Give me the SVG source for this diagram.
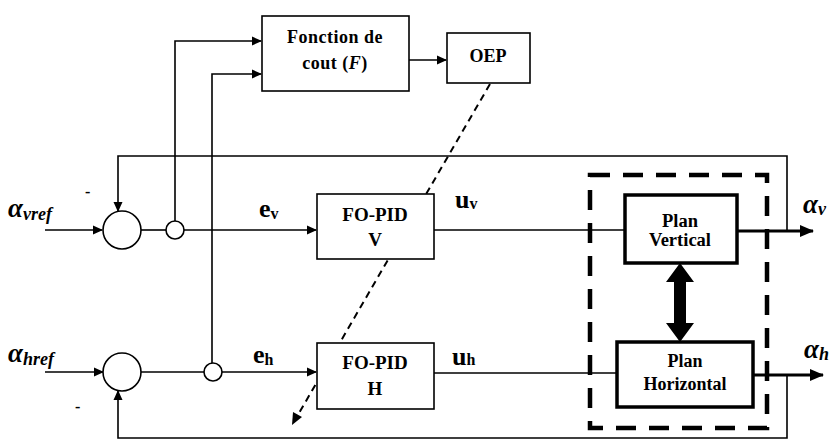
<svg xmlns="http://www.w3.org/2000/svg" width="832" height="443" viewBox="0 0 832 443">
<style>
.ln{fill:none;stroke:#000;stroke-width:1.6}
.box{fill:#fff;stroke:#000;stroke-width:1.6}
.tbox{fill:#fff;stroke:#000;stroke-width:3.5}
</style>
<defs>
<marker id="ar" markerWidth="10" markerHeight="10" refX="9" refY="5" orient="auto" markerUnits="userSpaceOnUse">
<path d="M0,0.5 L10,5 L0,9.5 Z" fill="#000"/>
</marker>
<marker id="arb" markerWidth="14" markerHeight="14" refX="13" refY="7" orient="auto" markerUnits="userSpaceOnUse">
<path d="M0,1 L14,7 L0,13 Z" fill="#000"/>
</marker>
</defs>

<g id="connectors">
<line class="ln" x1="45" y1="230" x2="102" y2="230" marker-end="url(#ar)"/>
<line class="ln" x1="45" y1="372" x2="103" y2="372" marker-end="url(#ar)"/>
<polyline class="ln" points="787,231 787,156 118,156 118,211" marker-end="url(#ar)"/>
<polyline class="ln" points="787,375 787,438 118,438 118,391" marker-end="url(#ar)"/>
<line class="ln" x1="141" y1="230" x2="166" y2="230"/>
<line class="ln" x1="184" y1="230" x2="316" y2="230" marker-end="url(#ar)"/>
<line class="ln" x1="141" y1="372" x2="204" y2="372"/>
<line class="ln" x1="222" y1="372" x2="316" y2="372" marker-end="url(#ar)"/>
<polyline class="ln" points="175,221 175,41 261,41" marker-end="url(#ar)"/>
<polyline class="ln" points="212,363 212,74 261,74" marker-end="url(#ar)"/>
<line class="ln" x1="409" y1="60" x2="446" y2="60" marker-end="url(#ar)"/>
<line class="ln" x1="434" y1="230" x2="625" y2="230"/>
<line class="ln" x1="434" y1="373" x2="617" y2="373"/>
<line x1="737" y1="231" x2="813" y2="231" stroke="#000" stroke-width="3" marker-end="url(#arb)"/>
<line x1="753" y1="375" x2="823" y2="375" stroke="#000" stroke-width="3" marker-end="url(#arb)"/>
<line x1="490" y1="84" x2="295" y2="420" stroke="#000" stroke-width="2" stroke-dasharray="7,5"/>
<path d="M292,425 L293,412 L302,417 Z" fill="#000"/>
<rect x="590" y="175" width="177" height="253" fill="none" stroke="#000" stroke-width="4.5" stroke-dasharray="20,13"/>
<path d="M680,263 L694,282 L686,282 L686,323 L694,323 L680,342 L666,323 L674,323 L674,282 L666,282 Z" fill="#000"/>
</g>

<g id="sum_v"><circle class="box" cx="122" cy="230" r="19"/></g>
<g id="sum_h"><circle class="box" cx="122" cy="372" r="19"/></g>
<g id="tap_v"><circle class="box" cx="175" cy="230" r="9"/></g>
<g id="tap_h"><circle class="box" cx="213" cy="372" r="9"/></g>

<g id="cost">
<rect class="box" x="262" y="16" width="147" height="75"/>
<text x="335" y="43" text-anchor="middle" font-family="Liberation Serif" font-weight="bold" font-size="18" letter-spacing="0.5">Fonction de</text>
<text x="335" y="69" text-anchor="middle" font-family="Liberation Serif" font-weight="bold" font-size="18" letter-spacing="0.5">cout (<tspan font-style="italic">F</tspan>)</text>
</g>
<g id="oep">
<rect class="box" x="447" y="33" width="83" height="50"/>
<text x="488" y="62" text-anchor="middle" font-family="Liberation Serif" font-weight="bold" font-size="18">OEP</text>
</g>
<g id="pid_v">
<rect class="box" x="317" y="194" width="117" height="65"/>
<text x="375" y="221" text-anchor="middle" font-family="Liberation Serif" font-weight="bold" font-size="19">FO-PID</text>
<text x="375" y="246" text-anchor="middle" font-family="Liberation Serif" font-weight="bold" font-size="19">V</text>
</g>
<g id="pid_h">
<rect class="box" x="317" y="343" width="117" height="66"/>
<text x="375" y="369" text-anchor="middle" font-family="Liberation Serif" font-weight="bold" font-size="19">FO-PID</text>
<text x="375" y="395" text-anchor="middle" font-family="Liberation Serif" font-weight="bold" font-size="19">H</text>
</g>
<g id="plan_v">
<rect class="tbox" x="625" y="195" width="112" height="68"/>
<text x="680" y="227" text-anchor="middle" font-family="Liberation Serif" font-weight="bold" font-size="18.5">Plan</text>
<text x="680" y="246" text-anchor="middle" font-family="Liberation Serif" font-weight="bold" font-size="18.5">Vertical</text>
</g>
<g id="plan_h">
<rect class="tbox" x="617" y="342" width="136" height="65"/>
<text x="685" y="367" text-anchor="middle" font-family="Liberation Serif" font-weight="bold" font-size="18">Plan</text>
<text x="685" y="390" text-anchor="middle" font-family="Liberation Serif" font-weight="bold" font-size="18">Horizontal</text>
</g>

<g id="labels">
<text x="8" y="217" font-family="Liberation Serif" font-weight="bold" font-style="italic" font-size="27">α<tspan font-size="18" dy="3">vref</tspan></text>
<text x="8" y="362" font-family="Liberation Serif" font-weight="bold" font-style="italic" font-size="27">α<tspan font-size="18" dy="3">href</tspan></text>
<text x="85" y="197" font-family="Liberation Serif" font-weight="bold" font-size="16">-</text>
<text x="75" y="412" font-family="Liberation Serif" font-weight="bold" font-size="16">-</text>
<text x="259" y="217" font-family="Liberation Serif" font-weight="bold" font-size="26">e<tspan font-size="16" dy="2">v</tspan></text>
<text x="253" y="363" font-family="Liberation Serif" font-weight="bold" font-size="26">e<tspan font-size="16" dy="2">h</tspan></text>
<text x="455" y="208" font-family="Liberation Serif" font-weight="bold" font-size="26">u<tspan font-size="16" dy="1">v</tspan></text>
<text x="452" y="365" font-family="Liberation Serif" font-weight="bold" font-size="26">u<tspan font-size="16">h</tspan></text>
<text x="803" y="213" font-family="Liberation Serif" font-weight="bold" font-style="italic" font-size="27">α<tspan font-size="18" dy="2">v</tspan></text>
<text x="804" y="358" font-family="Liberation Serif" font-weight="bold" font-style="italic" font-size="27">α<tspan font-size="18" dy="2">h</tspan></text>
</g>
</svg>
